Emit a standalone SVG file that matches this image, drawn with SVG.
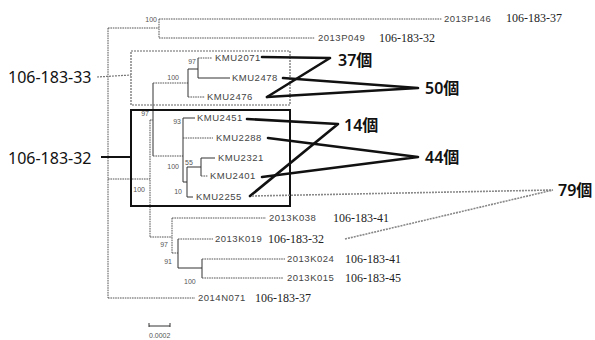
<svg xmlns="http://www.w3.org/2000/svg" width="595" height="340" viewBox="0 0 595 340">
<style>
.br{fill:none;stroke:#555;stroke-width:1;stroke-dasharray:1.6 0.8}
.sl{fill:none;stroke:#333;stroke-width:1}
.id{font-family:"Liberation Sans",Arial,sans-serif;font-size:9.5px;fill:#444;letter-spacing:0.5px}
.bs{font-family:"Liberation Sans",Arial,sans-serif;font-size:7px;fill:#555}
.loc{font-family:"Liberation Serif","Times New Roman",serif;font-size:12px;fill:#222}
.big{font-family:"Noto Sans","Noto Sans CJK JP",sans-serif;font-size:16px;fill:#111}
.cnt{font-family:"Noto Sans","Noto Sans CJK JP",sans-serif;font-size:16px;fill:#111;font-weight:600}
.thk{fill:none;stroke:#111;stroke-width:2.6;stroke-linecap:round;stroke-linejoin:round}
.gry{fill:none;stroke:#888;stroke-width:1.6;stroke-dasharray:2 1}
</style>
<g id="tree">
<path class="br" d="M108,28V298M108,28H159M159,19V38M159,19H442M159,38H315"/>
<path class="br" d="M108,179H150M150,120V237M150,120H153"/>
<path class="sl" d="M153,83V156"/>
<path class="br" d="M153,83H188"/>
<path class="sl" d="M188,69V97M188,69H198M198,58V78M198,78H230"/>
<path class="br" d="M198,58H212M188,97H205"/>
<path class="br" d="M153,156H183"/>
<path class="sl" d="M183,118V182M183,118H195M183,182H187M187,167V197M187,167H201M201,158V176M201,158H215M187,197H193"/>
<path class="br" d="M183,138H213M201,176H208"/>
<path class="br" d="M150,237H172M172,218V253M172,218H266M172,253H178"/>
<path class="sl" d="M178,239V268M178,268H202M202,259V278"/>
<path class="br" d="M178,239H213M202,259H285M202,278H283M108,298H195"/>
</g>
<g id="support" class="bs">
<text x="157" y="22" text-anchor="end">100</text>
<text x="196" y="64" text-anchor="end">97</text>
<text x="179" y="80" text-anchor="end">100</text>
<text x="149" y="116" text-anchor="end">97</text>
<text x="181" y="124" text-anchor="end">93</text>
<text x="179" y="169" text-anchor="end">100</text>
<text x="185" y="165">55</text>
<text x="182" y="194" text-anchor="end">10</text>
<text x="145" y="192" text-anchor="end">100</text>
<text x="168" y="247" text-anchor="end">97</text>
<text x="172" y="264" text-anchor="end">91</text>
<text x="184" y="284">100</text>
</g>
<g id="n-2013P146"><text class="id" x="444" y="22">2013P146</text><text class="loc" x="506" y="22">106-183-37</text></g>
<g id="n-2013P049"><text class="id" x="318" y="41">2013P049</text><text class="loc" x="379" y="42">106-183-32</text></g>
<g id="n-KMU2071"><text class="id" x="215" y="61">KMU2071</text></g>
<g id="n-KMU2478"><text class="id" x="232" y="81">KMU2478</text></g>
<g id="n-KMU2476"><text class="id" x="207" y="100">KMU2476</text></g>
<g id="n-KMU2451"><text class="id" x="197" y="121">KMU2451</text></g>
<g id="n-KMU2288"><text class="id" x="216" y="141">KMU2288</text></g>
<g id="n-KMU2321"><text class="id" x="218" y="161">KMU2321</text></g>
<g id="n-KMU2401"><text class="id" x="210" y="179">KMU2401</text></g>
<g id="n-KMU2255"><text class="id" x="196" y="200">KMU2255</text></g>
<g id="n-2013K038"><text class="id" x="269" y="221">2013K038</text><text class="loc" x="333" y="222">106-183-41</text></g>
<g id="n-2013K019"><text class="id" x="215" y="242">2013K019</text><text class="loc" x="268" y="243">106-183-32</text></g>
<g id="n-2013K024"><text class="id" x="287" y="262">2013K024</text><text class="loc" x="345" y="263">106-183-41</text></g>
<g id="n-2013K015"><text class="id" x="287" y="281">2013K015</text><text class="loc" x="345" y="282">106-183-45</text></g>
<g id="n-2014N071"><text class="id" x="198" y="301">2014N071</text><text class="loc" x="255" y="302">106-183-37</text></g>
<g id="box-33"><rect x="131" y="51" width="159" height="54" fill="none" stroke="#666" stroke-width="1.2" stroke-dasharray="2 1"/><text class="big" x="8" y="83">106-183-33</text></g>
<g id="box-32"><rect x="131" y="110" width="159" height="96" fill="none" stroke="#111" stroke-width="2"/><text class="big" x="8" y="164">106-183-32</text></g>
<g id="scale"><path class="sl" d="M149,326H170M149,323V327M170,323V327"/><text class="bs" x="149" y="338">0.0002</text></g>
<g id="c37"><text class="cnt" x="338" y="66">37個</text></g>
<g id="c50"><text class="cnt" x="425" y="94">50個</text></g>
<g id="c14"><text class="cnt" x="344" y="131">14個</text></g>
<g id="c44"><text class="cnt" x="425" y="163">44個</text></g>
<g id="c79"><text class="cnt" x="558" y="196">79個</text></g>
<g id="connectors">
<path d="M97,77L131,75" fill="none" stroke="#777" stroke-width="1.2" stroke-dasharray="2 1"/>
<path d="M101,157H131" fill="none" stroke="#111" stroke-width="2"/>
<polyline class="thk" points="262,57 330,58 267,97"/>
<path class="thk" d="M283,78L418,88M267,97L418,88"/>
<polyline class="thk" points="247,119 338,124 250,196"/>
<path class="thk" d="M268,138L418,157M262,177L418,157"/>
<path class="gry" d="M252,196L553,190M345,239L553,190"/>
</g>
</svg>
